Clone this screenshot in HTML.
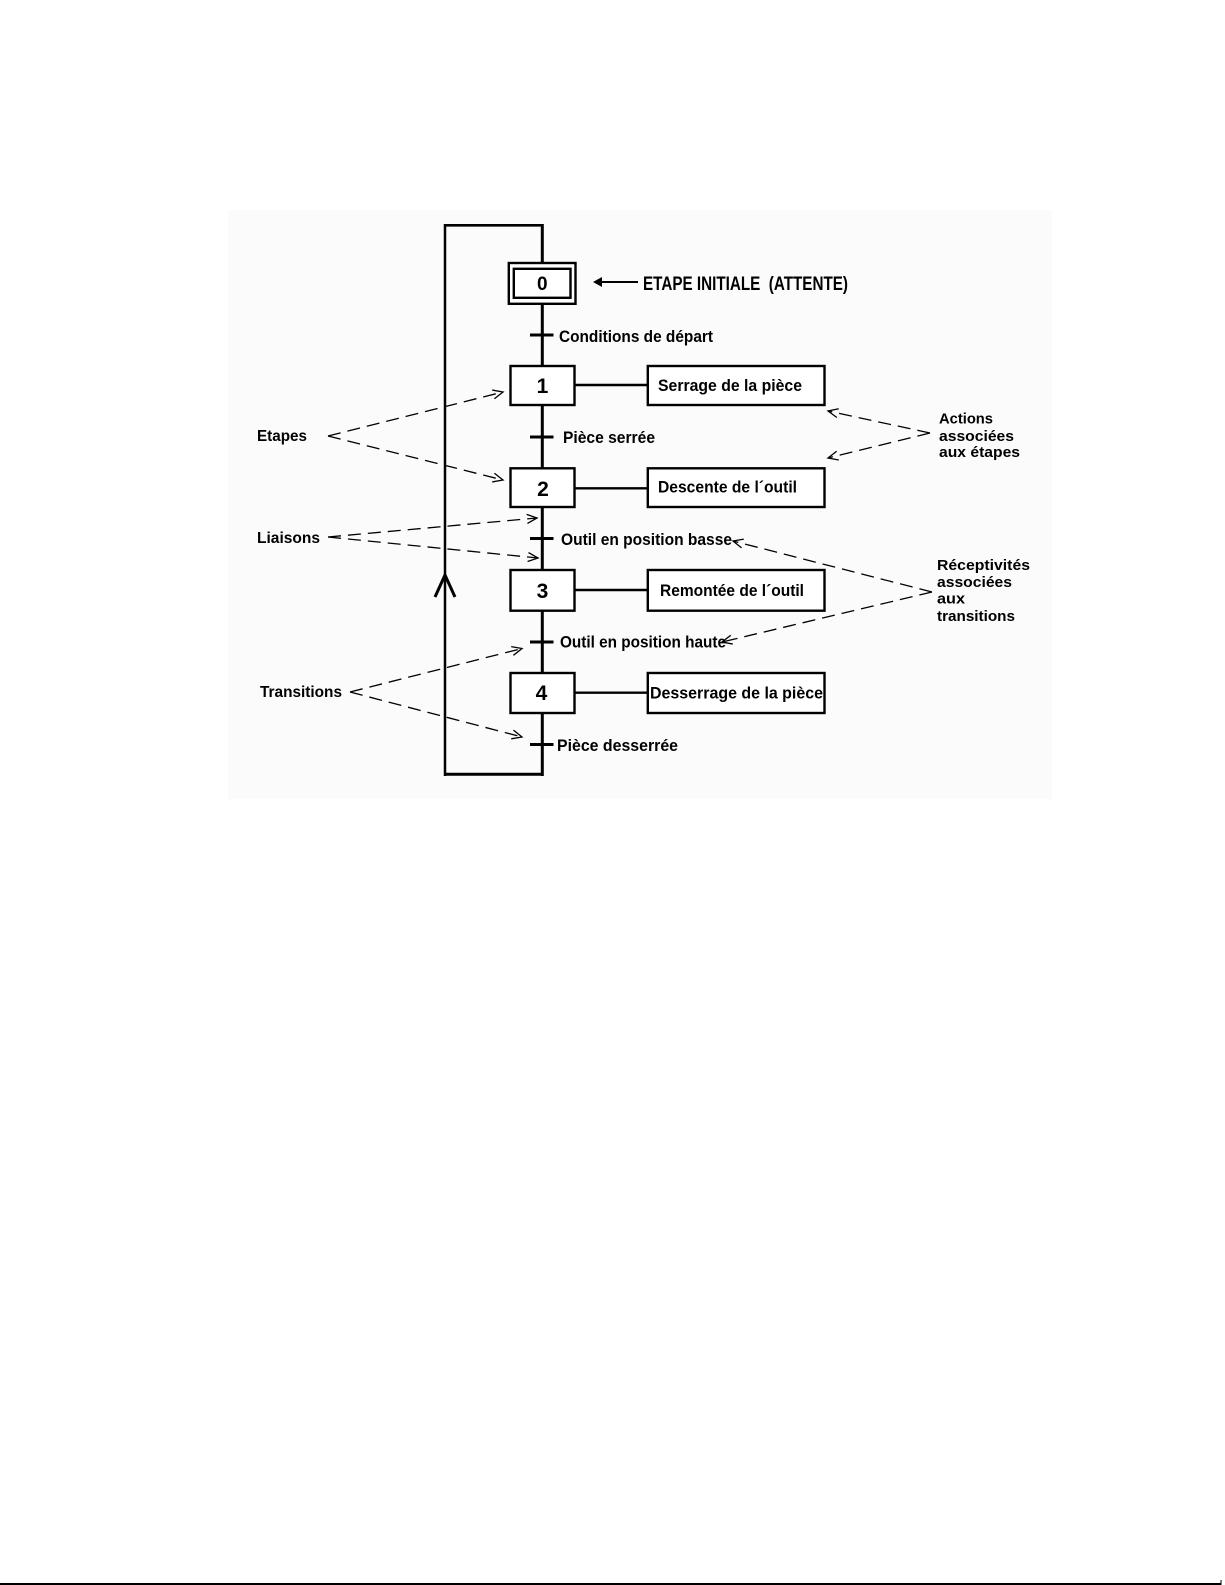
<!DOCTYPE html>
<html>
<head>
<meta charset="utf-8">
<style>
  html, body { margin:0; padding:0; background:#ffffff; }
  body { width:1225px; height:1585px; overflow:hidden; position:relative; }
  svg { position:absolute; left:0; top:0; }
  text { font-family: "Liberation Sans", "DejaVu Sans", sans-serif; font-weight:bold; fill:#000; }
</style>
</head>
<body>
<svg width="1225" height="1585" viewBox="0 0 1225 1585" xmlns="http://www.w3.org/2000/svg">
  <defs>
    <marker id="oa" markerUnits="userSpaceOnUse" markerWidth="16" markerHeight="16" refX="12" refY="8" orient="auto">
      <path d="M2,3.5 L12,8 L2,12.5" fill="none" stroke="#000" stroke-width="1.3" stroke-dasharray="none"/>
    </marker>
  </defs>

  <!-- faint background of diagram -->
  <rect x="228" y="210" width="824" height="589" fill="#fbfbfb"/>

  <!-- loop lines -->
  <g stroke="#000" fill="none">
    <line x1="542.3" y1="224" x2="542.3" y2="776" stroke-width="3"/>
    <line x1="445" y1="224" x2="445" y2="776" stroke-width="2.5"/>
    <line x1="444" y1="225.3" x2="543.5" y2="225.3" stroke-width="2.7"/>
    <line x1="444" y1="774.3" x2="543.5" y2="774.3" stroke-width="3"/>
    <polyline points="435,597 445,575 455,597" stroke-width="3"/>
  </g>

  <!-- step boxes -->
  <g stroke="#000" stroke-width="2.4" fill="#fff">
    <rect x="508.8" y="263" width="66.7" height="40.8"/>
    <rect x="513.8" y="268.8" width="56.7" height="29"/>
    <rect x="510.5" y="366" width="64" height="39"/>
    <rect x="510.5" y="468.3" width="64" height="38.7"/>
    <rect x="510.5" y="570" width="64" height="40.7"/>
    <rect x="510.5" y="673" width="64" height="40"/>
  </g>

  <!-- action boxes + connectors -->
  <g stroke="#000" stroke-width="2.4" fill="#fff">
    <line x1="575" y1="385" x2="648" y2="385"/>
    <line x1="575" y1="488.3" x2="648" y2="488.3"/>
    <line x1="575" y1="590" x2="648" y2="590"/>
    <line x1="575" y1="692.7" x2="648" y2="692.7"/>
    <rect x="647.8" y="366" width="176.7" height="39"/>
    <rect x="647.8" y="468.3" width="176.7" height="38.7"/>
    <rect x="647.8" y="570" width="176.7" height="40.7"/>
    <rect x="647.8" y="673" width="176.7" height="40"/>
  </g>

  <!-- transition bars -->
  <g stroke="#000" stroke-width="3">
    <line x1="530" y1="335" x2="553.5" y2="335"/>
    <line x1="530" y1="437" x2="553.5" y2="437"/>
    <line x1="530" y1="538.5" x2="553.5" y2="538.5"/>
    <line x1="530" y1="642" x2="553.5" y2="642"/>
    <line x1="530" y1="744.5" x2="553.5" y2="744.5"/>
  </g>

  <!-- initial step arrow -->
  <line x1="598" y1="282" x2="638" y2="282" stroke="#000" stroke-width="2"/>
  <polygon points="593,282 602,277 602,287" fill="#000"/>

  <!-- step numbers -->
  <text x="542.3" y="290" font-size="19" text-anchor="middle">0</text>
  <text x="542.5" y="393" font-size="21" text-anchor="middle">1</text>
  <text x="543" y="496" font-size="21" text-anchor="middle">2</text>
  <text x="542.5" y="598" font-size="21" text-anchor="middle">3</text>
  <text x="541.5" y="700" font-size="21" text-anchor="middle">4</text>

  <!-- labels -->
  <text x="643" y="290" font-size="19" textLength="205" lengthAdjust="spacingAndGlyphs" xml:space="preserve">ETAPE INITIALE  (ATTENTE)</text>
  <text x="559" y="342" font-size="17" textLength="154" lengthAdjust="spacingAndGlyphs">Conditions de départ</text>
  <text x="658" y="391" font-size="17" textLength="144" lengthAdjust="spacingAndGlyphs">Serrage de la pièce</text>
  <text x="563" y="443" font-size="17" textLength="92" lengthAdjust="spacingAndGlyphs">Pièce serrée</text>
  <text x="658" y="492.5" font-size="17" textLength="139" lengthAdjust="spacingAndGlyphs">Descente de l´outil</text>
  <text x="561" y="545" font-size="17" textLength="171" lengthAdjust="spacingAndGlyphs">Outil en position basse</text>
  <text x="660" y="596" font-size="17" textLength="144" lengthAdjust="spacingAndGlyphs">Remontée de l´outil</text>
  <text x="560" y="647.5" font-size="17" textLength="166" lengthAdjust="spacingAndGlyphs">Outil en position haute</text>
  <text x="650" y="698.5" font-size="17" textLength="173" lengthAdjust="spacingAndGlyphs">Desserrage de la pièce</text>
  <text x="557" y="751" font-size="17" textLength="121" lengthAdjust="spacingAndGlyphs">Pièce desserrée</text>

  <text x="257" y="441" font-size="16" textLength="50" lengthAdjust="spacingAndGlyphs">Etapes</text>
  <text x="257" y="543" font-size="16" textLength="63" lengthAdjust="spacingAndGlyphs">Liaisons</text>
  <text x="260" y="697" font-size="16" textLength="82" lengthAdjust="spacingAndGlyphs">Transitions</text>

  <text x="939" y="423.5" font-size="15" textLength="54" lengthAdjust="spacingAndGlyphs">Actions</text>
  <text x="939" y="441" font-size="15" textLength="75" lengthAdjust="spacingAndGlyphs">associées</text>
  <text x="939" y="457" font-size="15" textLength="81" lengthAdjust="spacingAndGlyphs">aux étapes</text>

  <text x="937" y="570" font-size="15" textLength="93" lengthAdjust="spacingAndGlyphs">Réceptivités</text>
  <text x="937" y="587" font-size="15" textLength="75" lengthAdjust="spacingAndGlyphs">associées</text>
  <text x="937" y="603.5" font-size="15" textLength="28" lengthAdjust="spacingAndGlyphs">aux</text>
  <text x="937" y="621" font-size="15" textLength="78" lengthAdjust="spacingAndGlyphs">transitions</text>

  <!-- dashed pointers -->
  <g stroke="#000" stroke-width="1.3" fill="none" stroke-dasharray="13 7">
    <path d="M328,436 L503,392" marker-end="url(#oa)"/>
    <path d="M328,436 L503,480" marker-end="url(#oa)"/>
    <path d="M328,537 L537,518" marker-end="url(#oa)"/>
    <path d="M328,537 L538,558" marker-end="url(#oa)"/>
    <path d="M350,692 L522,648.5" marker-end="url(#oa)"/>
    <path d="M350,692 L522,737" marker-end="url(#oa)"/>
    <path d="M930,433 L828,411" marker-end="url(#oa)"/>
    <path d="M930,433 L828,458" marker-end="url(#oa)"/>
    <path d="M932,592 L733,541" marker-end="url(#oa)"/>
    <path d="M932,592 L722,642" marker-end="url(#oa)"/>
  </g>

  <!-- page bottom line -->
  <line x1="0" y1="1584" x2="1221" y2="1584" stroke="#000" stroke-width="2"/>
  <line x1="1221" y1="1580" x2="1221" y2="1585" stroke="#000" stroke-width="1"/>
</svg>
</body>
</html>
